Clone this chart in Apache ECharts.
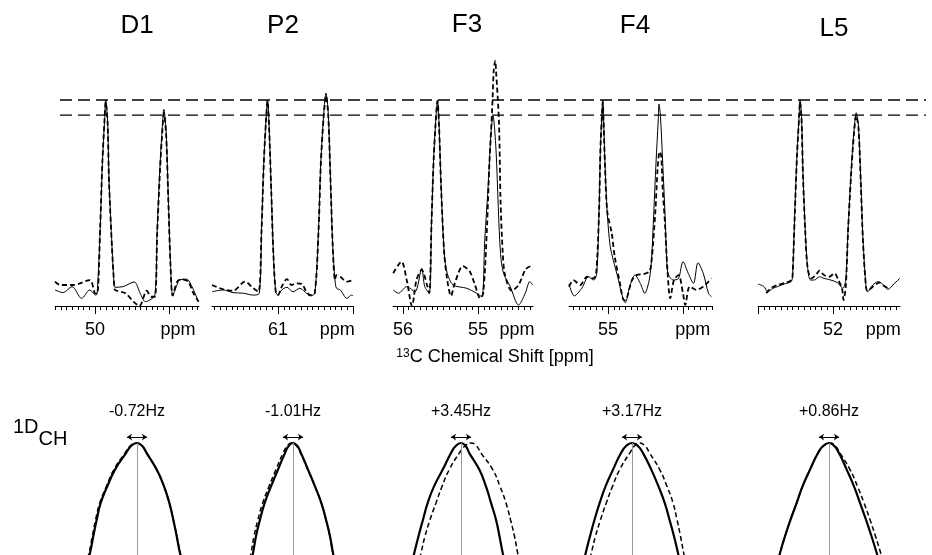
<!DOCTYPE html>
<html>
<head>
<meta charset="utf-8">
<script src="https://cdn.jsdelivr.net/npm/echarts@6/dist/echarts.min.js"></script>
<style>
html, body { margin: 0; padding: 0; background: #fff; }
#chart { width: 932px; height: 555px; }
</style>
</head>
<body>
<div id="chart"></div>
<script>
// residue names and 13C axes (ppm, axis runs right-to-left)
var panelNames = ['D1', 'P2', 'F3', 'F4', 'L5'];
var ppmRanges = [[48.595, 50.54], [60.0, 61.88], [54.267, 56.133], [53.613, 55.52], [51.107, 53.0]];
var majorTicks = [[50, 49], [61, 60], [56, 55], [55, 54], [53, 52]];
var tickLabels = [[50], [61], [56, 55], [55], [52]];
var unitLabelPos = [48.88, 60.21, 54.48, 53.87, 51.33];
var refLevels = [100, 92.7];
var couplingLabels = ['-0.72Hz', '-1.01Hz', '+3.45Hz', '+3.17Hz', '+0.86Hz'];

// spectra: [ppm, intensity]
var d1Solid = [[50.54,7.8],[50.43,6.5],[50.31,9.4],[50.18,3.7],[50.07,7.8],[49.99,5.3],[49.97,6.2],[49.93,36.9],[49.90,69.3],[49.87,90.3],[49.855,100],[49.83,90.3],[49.81,61.2],[49.77,28.8],[49.74,9.4],[49.73,9.1],[49.62,9.4],[49.47,11.7],[49.39,6.2],[49.32,2.1],[49.26,2.9],[49.19,5.3],[49.16,36.9],[49.12,69.3],[49.09,87.0],[49.07,95.5],[49.04,85.4],[49.01,53.1],[48.98,20.7],[48.95,5.3],[48.90,9.4],[48.86,12.6],[48.76,13.0],[48.69,9.4],[48.62,3.7]];
var d1Dashed = [[50.54,11.8],[50.47,10.2],[50.29,10.2],[50.07,12.6],[50.00,6.2],[49.97,6.0],[49.93,38],[49.90,70],[49.87,91],[49.855,99],[49.83,89],[49.81,60],[49.77,28],[49.74,10],[49.73,7.8],[49.59,6.2],[49.48,2.1],[49.40,0],[49.30,7.4],[49.24,4.5],[49.19,4.5],[49.16,35],[49.12,67],[49.09,85],[49.07,93.5],[49.04,84],[49.01,52],[48.98,20],[48.95,5],[48.89,11.8],[48.83,13.0],[48.74,11.8],[48.68,6.9],[48.60,2.1]];
var p2Solid = [[61.88,6.9],[61.73,7.8],[61.60,6.5],[61.46,6.2],[61.33,5.3],[61.25,6.2],[61.22,36.9],[61.19,69.3],[61.16,90.3],[61.14,100],[61.12,88.7],[61.09,56.3],[61.06,23.9],[61.03,6.9],[61.00,5.3],[60.95,7.8],[60.88,9.1],[60.80,6.9],[60.71,8.6],[60.64,6.9],[60.57,4.9],[60.51,6.2],[60.46,36.9],[60.43,69.3],[60.39,93.5],[60.36,103.3],[60.33,93.5],[60.30,61.2],[60.27,28.8],[60.24,12.6],[60.22,8.6],[60.17,7.8],[60.08,3.7],[60.02,5.3],[60.0,4.9]];
var p2Dashed = [[61.88,10.2],[61.73,8.1],[61.60,7.4],[61.44,11.8],[61.33,8.6],[61.26,6.9],[61.22,36],[61.19,68.5],[61.16,90],[61.14,99.5],[61.12,88],[61.09,56],[61.06,24],[61.03,7],[61.00,5.3],[60.95,9.4],[60.88,13.0],[60.82,10.2],[60.75,11.0],[60.68,10.7],[60.63,7.4],[60.57,5.3],[60.51,6.2],[60.46,36],[60.43,68],[60.39,92.5],[60.36,102],[60.33,92.5],[60.30,61],[60.27,29],[60.24,12.6],[60.22,15.0],[60.17,14.2],[60.08,11.8],[60.0,12.6]];
var f3Solid = [[56.13,7.8],[56.06,6.2],[55.95,9.4],[55.84,6.9],[55.75,18.3],[55.71,9.4],[55.65,6.2],[55.62,40.1],[55.59,72.5],[55.56,91.9],[55.54,100],[55.52,88.7],[55.49,56.3],[55.45,25.6],[55.41,15.9],[55.33,10.2],[55.15,8.6],[55.02,6.2],[54.95,4.5],[54.91,32.0],[54.86,61.2],[54.83,82.2],[54.80,92.2],[54.76,75.7],[54.73,48.2],[54.70,25.6],[54.66,15.9],[54.57,9.4],[54.46,0.5],[54.37,6.2],[54.31,11.8],[54.27,10.2]];
var f3Dashed = [[56.13,15.9],[56.02,21.5],[55.95,12.6],[55.88,0],[55.82,12.6],[55.75,17.5],[55.68,10.2],[55.65,6.2],[55.62,40],[55.59,72],[55.56,91.5],[55.54,99.5],[55.52,88],[55.49,56],[55.45,25.6],[55.41,12.6],[55.36,4.9],[55.31,11.0],[55.20,19.4],[55.11,16.7],[55.04,10.2],[54.97,3.7],[54.93,6.2],[54.88,38.5],[54.85,67.6],[54.81,96.8],[54.79,114.6],[54.77,119.1],[54.76,114.6],[54.72,88.7],[54.70,51.5],[54.67,25.6],[54.64,15.0],[54.55,7.4],[54.46,10.2],[54.37,17.5],[54.31,19.1],[54.27,17.8]];
var f4Solid = [[55.52,10.7],[55.45,4.9],[55.35,8.6],[55.26,14.2],[55.19,12.6],[55.15,15.9],[55.12,45.0],[55.10,77.3],[55.08,93.5],[55.07,100],[55.06,91.9],[55.04,69.3],[55.01,45.0],[54.97,28.8],[54.93,22.3],[54.86,12.6],[54.82,6.2],[54.77,1.6],[54.71,9.4],[54.64,15.0],[54.57,11.0],[54.51,6.2],[54.45,12.6],[54.42,22.3],[54.39,45.0],[54.36,69.3],[54.33,90.3],[54.32,98.1],[54.30,91.9],[54.27,69.3],[54.24,45.0],[54.22,25.6],[54.20,15.9],[54.13,12.6],[54.06,13.4],[54.00,21.5],[53.93,15.9],[53.86,11.0],[53.80,21.0],[53.73,15.9],[53.66,6.2],[53.62,4.5]];
var f4Dashed = [[55.52,9.4],[55.46,12.6],[55.37,10.2],[55.28,14.2],[55.20,13.4],[55.16,15.0],[55.12,45],[55.10,77],[55.08,93],[55.07,99],[55.06,91],[55.04,68],[55.01,46],[54.95,35.3],[54.91,23.9],[54.84,11.0],[54.79,2.9],[54.77,2.9],[54.68,12.6],[54.62,15.0],[54.53,15.5],[54.45,16.7],[54.42,21.5],[54.37,45.0],[54.34,66.0],[54.32,74.1],[54.31,74.9],[54.29,72.5],[54.27,56.3],[54.24,40.1],[54.21,19.1],[54.17,3.7],[54.12,12.6],[54.06,15.0],[54.00,6.2],[53.97,0.5],[53.91,9.4],[53.82,7.8],[53.73,9.4],[53.66,11.8],[53.62,13.4]];
var l5Solid = [[53.0,10.7],[52.92,9.4],[52.87,6.9],[52.80,8.6],[52.74,9.4],[52.65,10.7],[52.56,11.8],[52.54,14.2],[52.51,45.0],[52.48,74.1],[52.45,93.5],[52.44,100],[52.42,91.9],[52.40,64.4],[52.37,36.9],[52.34,19.1],[52.30,12.6],[52.25,12.6],[52.18,14.2],[52.12,13.4],[52.03,12.6],[51.94,11.3],[51.87,8.6],[51.83,12.6],[51.80,36.9],[51.76,64.4],[51.72,85.4],[51.69,93.8],[51.66,87.0],[51.63,61.2],[51.60,32.0],[51.56,9.4],[51.54,6.9],[51.47,10.2],[51.40,11.8],[51.34,10.7],[51.27,8.1],[51.18,11.0],[51.11,13.4]];
var l5Dashed = [[52.89,6.2],[52.83,8.6],[52.74,10.2],[52.63,11.3],[52.55,12.6],[52.54,14],[52.51,44],[52.48,73],[52.45,93],[52.44,99],[52.42,91],[52.40,63],[52.37,36],[52.34,19],[52.29,13.4],[52.23,15.0],[52.18,17.2],[52.12,15.0],[52.05,14.2],[51.98,15.9],[51.93,12.6],[51.88,8.6],[51.86,2.9],[51.83,9.4],[51.80,36],[51.76,63],[51.72,84],[51.69,92.5],[51.66,86],[51.63,60],[51.60,31],[51.56,9],[51.54,7.4],[51.47,9.4],[51.38,11.3],[51.32,9.7],[51.27,8.6]];

// 1D_CH peak tops: [Hz offset, relative height]
var dch1Solid = [[-16.9,0.56],[-15.67,0.607],[-14.57,0.667],[-13.43,0.726],[-12.1,0.786],[-9.9,0.845],[-7.33,0.905],[-3.67,0.964],[-1.9,0.99],[0,1],[1.7,0.99],[3.23,0.964],[6.57,0.905],[9,0.845],[10.77,0.786],[12.1,0.726],[13.23,0.667],[14.33,0.607],[15.5,0.56]];
var dch1Dashed = [[-17.2,0.56],[-16.0,0.607],[-14.9,0.667],[-13.8,0.726],[-12.4,0.786],[-10.2,0.845],[-7.7,0.905],[-4.0,0.964],[-2.2,0.99],[-0.3,1],[1.6,0.99],[3.2,0.964],[6.5,0.905],[9.0,0.845],[10.8,0.786],[12.1,0.726],[13.3,0.667],[14.4,0.607],[15.6,0.56]];
var dch2Solid = [[-14.3,0.56],[-13.33,0.607],[-12.33,0.667],[-11,0.726],[-9.43,0.786],[-7.33,0.845],[-5,0.905],[-2.67,0.964],[-1.4,0.99],[0,1],[1.4,0.99],[2.67,0.964],[5,0.905],[7.33,0.845],[9.43,0.786],[11,0.726],[12.33,0.667],[13.33,0.607],[14.3,0.56]];
var dch2Dashed = [[-15.0,0.56],[-14.0,0.607],[-13.0,0.667],[-11.7,0.726],[-10.1,0.786],[-8.0,0.845],[-5.7,0.905],[-3.3,0.964],[-1.9,0.99],[-0.5,1],[1.1,0.99],[2.5,0.964],[4.9,0.905],[7.3,0.845],[9.4,0.786],[11,0.726],[12.3,0.667],[13.3,0.607],[14.3,0.56]];
var dch3Solid = [[-16.6,0.56],[-15.57,0.607],[-14.17,0.667],[-12.67,0.726],[-11.1,0.786],[-9,0.845],[-6.1,0.905],[-3.33,0.964],[-1.7,0.99],[0,1],[1.5,0.99],[2.77,0.964],[6.1,0.905],[8.33,0.845],[10,0.786],[11.67,0.726],[12.83,0.667],[13.9,0.607],[14.9,0.56]];
var dch3Dashed = [[-14.4,0.56],[-13.33,0.607],[-12,0.667],[-10.33,0.726],[-8.33,0.786],[-6.33,0.845],[-3.9,0.905],[-0.57,0.964],[1.4,0.99],[3.33,1],[5.1,0.99],[6.67,0.964],[10.57,0.905],[13,0.845],[15,0.786],[16.5,0.726],[17.83,0.667],[18.9,0.607],[19.9,0.56]];
var dch4Solid = [[-16.4,0.56],[-15.43,0.607],[-14,0.667],[-12.5,0.726],[-10.77,0.786],[-8.83,0.845],[-6.33,0.905],[-3.67,0.964],[-1.9,0.99],[0,1],[1.9,0.99],[3.67,0.964],[6.43,0.905],[8.83,0.845],[10.9,0.786],[12.5,0.726],[14,0.667],[15.33,0.607],[16.3,0.56]];
var dch4Dashed = [[-14.6,0.56],[-13.57,0.607],[-12.17,0.667],[-10.5,0.726],[-8.57,0.786],[-6.5,0.845],[-4.1,0.905],[-0.77,0.964],[0.9,0.99],[2.57,1],[4.3,0.99],[5.9,0.964],[9.23,0.905],[11.67,0.845],[13.67,0.786],[15,0.726],[16.17,0.667],[17.23,0.607],[18.2,0.56]];
var dch5Solid = [[-17.4,0.56],[-16.33,0.607],[-14.67,0.667],[-12.83,0.726],[-10.77,0.786],[-8.83,0.845],[-6.33,0.905],[-3.67,0.964],[-1.9,0.99],[0,1],[1.7,0.99],[3.33,0.964],[5.9,0.905],[8.33,0.845],[10.33,0.786],[12.33,0.726],[14.17,0.667],[15.9,0.607],[17.1,0.56]];
var dch5Dashed = [[-17.4,0.56],[-16.33,0.607],[-14.67,0.667],[-12.83,0.726],[-10.77,0.786],[-8.83,0.845],[-6.33,0.905],[-3.67,0.964],[-1.7,0.99],[0.33,1],[2.1,0.99],[3.67,0.964],[7,0.905],[9.5,0.845],[11.67,0.786],[13.67,0.726],[15.5,0.667],[17.23,0.607],[18.5,0.56]];
var arrowHalf = 3.33;

var specSolid = [d1Solid, p2Solid, f3Solid, f4Solid, l5Solid];
var specDashed = [d1Dashed, p2Dashed, f3Dashed, f4Dashed, l5Dashed];
var dchSolid = [dch1Solid, dch2Solid, dch3Solid, dch4Solid, dch5Solid];
var dchDashed = [dch1Dashed, dch2Dashed, dch3Dashed, dch4Dashed, dch5Dashed];

// layout
var specLeft = [55, 212, 393, 569, 758];
var specWidth = [144, 141, 140, 143, 142];
var nameX = [137, 283, 467, 635, 834];
var nameY = [26, 26, 25, 26, 29];
var dchCenter = [137, 293, 461, 632, 829];
var FONT = '"Liberation Sans", Arial, sans-serif';

function minorTicks(range, anchor) {
    var step = 1 / 13, out = [];
    var k0 = Math.ceil((range[0] - anchor) / step - 1e-6);
    var k1 = Math.floor((range[1] - anchor) / step + 1e-6);
    for (var k = k0; k <= k1; k++) out.push(+(anchor + k * step).toFixed(4));
    return out;
}

var myChart = echarts.init(document.getElementById('chart'));
var grid = [], xAxis = [], yAxis = [], series = [], graphic = [];

// spectra grids 0..4
for (var i = 0; i < 5; i++) {
    grid.push({ left: specLeft[i], width: specWidth[i], top: 48.5, height: 257.5 });
    yAxis.push({ type: 'value', gridIndex: i, min: 0, max: 125, show: false });
}
for (var i = 0; i < 5; i++) {
    (function (i) {
        var unitPos = unitLabelPos[i];
        xAxis.push({
            type: 'value', gridIndex: i, position: 'bottom', inverse: true,
            min: ppmRanges[i][0], max: ppmRanges[i][1],
            axisLine: { show: true, onZero: false, lineStyle: { color: '#000', width: 1 } },
            axisTick: { show: true, length: 8, customValues: majorTicks[i], lineStyle: { color: '#000', width: 1 } },
            axisLabel: {
                show: true, customValues: tickLabels[i].concat([unitPos]), margin: 15, color: '#000',
                fontSize: 18, fontFamily: FONT,
                formatter: function (v) { return Math.abs(v - unitPos) < 1e-6 ? 'ppm' : String(v); }
            },
            splitLine: { show: false }
        });
    })(i);
}
for (var i = 0; i < 5; i++) {
    xAxis.push({
        type: 'value', gridIndex: i, position: 'bottom', inverse: true,
        min: ppmRanges[i][0], max: ppmRanges[i][1],
        axisLine: { show: false, onZero: false },
        axisTick: { show: true, length: 4, customValues: minorTicks(ppmRanges[i], majorTicks[i][0]), lineStyle: { color: '#000', width: 1 } },
        axisLabel: { show: false },
        splitLine: { show: false }
    });
}
for (var i = 0; i < 5; i++) {
    series.push({
        type: 'line', xAxisIndex: i, yAxisIndex: i, data: specSolid[i],
        showSymbol: false, smooth: 0.3, z: 3,
        lineStyle: { color: '#000', width: 1 }
    });
    series.push({
        type: 'line', xAxisIndex: 5 + i, yAxisIndex: i, data: specDashed[i],
        showSymbol: false, smooth: 0.3, z: 4,
        lineStyle: { color: '#000', width: 1.8, type: [5, 3] }
    });
}

// reference level grid 5
grid.push({ left: 60, width: 866, top: 48.5, height: 257.5 });
xAxis.push({ type: 'value', gridIndex: 5, min: 0, max: 1, show: false });
yAxis.push({ type: 'value', gridIndex: 5, min: 0, max: 125, show: false });
refLevels.forEach(function (lv) {
    series.push({
        type: 'line', xAxisIndex: 10, yAxisIndex: 5, data: [[0, lv], [1, lv]],
        showSymbol: false, z: 2,
        lineStyle: { color: '#000', width: 1.3, type: [12, 6] }
    });
});

// 1D_CH grids 6..10 (run off the bottom edge of the figure)
for (var i = 0; i < 5; i++) {
    grid.push({ left: dchCenter[i] - 66, width: 132, top: 429, bottom: 0 });
    xAxis.push({ type: 'value', gridIndex: 6 + i, min: -22, max: 22, show: false });
    yAxis.push({ type: 'value', gridIndex: 6 + i, min: 0.6, max: 1.05, show: false });
    series.push({
        type: 'line', xAxisIndex: 11 + i, yAxisIndex: 6 + i, data: dchSolid[i],
        showSymbol: false, smooth: 0.5, z: 4,
        lineStyle: { color: '#000', width: 2.2 },
        markLine: {
            silent: true, animation: false, symbol: ['arrow', 'arrow'], symbolSize: 5,
            label: { show: false },
            data: [
                [{ coord: [0, 1], symbol: 'none', lineStyle: { color: '#999', width: 1, type: 'solid' } },
                 { coord: [0, 0.6], symbol: 'none' }],
                [{ coord: [-arrowHalf, 1.021], lineStyle: { color: '#000', width: 1, type: 'solid' } },
                 { coord: [arrowHalf, 1.021] }]
            ]
        }
    });
    series.push({
        type: 'line', xAxisIndex: 11 + i, yAxisIndex: 6 + i, data: dchDashed[i],
        showSymbol: false, smooth: 0.5, z: 3,
        lineStyle: { color: '#000', width: 1.5, type: [5, 3] }
    });
}

// texts
for (var i = 0; i < 5; i++) {
    graphic.push({ type: 'text', x: nameX[i], y: nameY[i],
        style: { text: panelNames[i], fill: '#000', font: '26px ' + FONT, align: 'center', verticalAlign: 'middle' } });
    graphic.push({ type: 'text', x: dchCenter[i], y: 412,
        style: { text: couplingLabels[i], fill: '#000', font: '16px ' + FONT, align: 'center', verticalAlign: 'middle' } });
}
graphic.push({ type: 'text', x: 495, y: 348,
    style: {
        text: '{s|13}{m|C Chemical Shift [ppm]}', fill: '#000', align: 'center', verticalAlign: 'top',
        rich: {
            s: { fontSize: 12, fontFamily: FONT, lineHeight: 12, verticalAlign: 'top', fill: '#000' },
            m: { fontSize: 18, fontFamily: FONT, lineHeight: 22, verticalAlign: 'top', fill: '#000' }
        }
    } });
graphic.push({ type: 'text', x: 13, y: 417,
    style: {
        text: '{a|1D}{b|CH}', fill: '#000', align: 'left', verticalAlign: 'top',
        rich: {
            a: { fontSize: 20, fontFamily: FONT, lineHeight: 20, verticalAlign: 'top', fill: '#000' },
            b: { fontSize: 20, fontFamily: FONT, lineHeight: 32, verticalAlign: 'bottom', fill: '#000' }
        }
    } });

var option = {
    backgroundColor: '#fff',
    animation: false,
    grid: grid,
    xAxis: xAxis,
    yAxis: yAxis,
    series: series,
    graphic: graphic
};
myChart.setOption(option);
</script>
</body>
</html>
